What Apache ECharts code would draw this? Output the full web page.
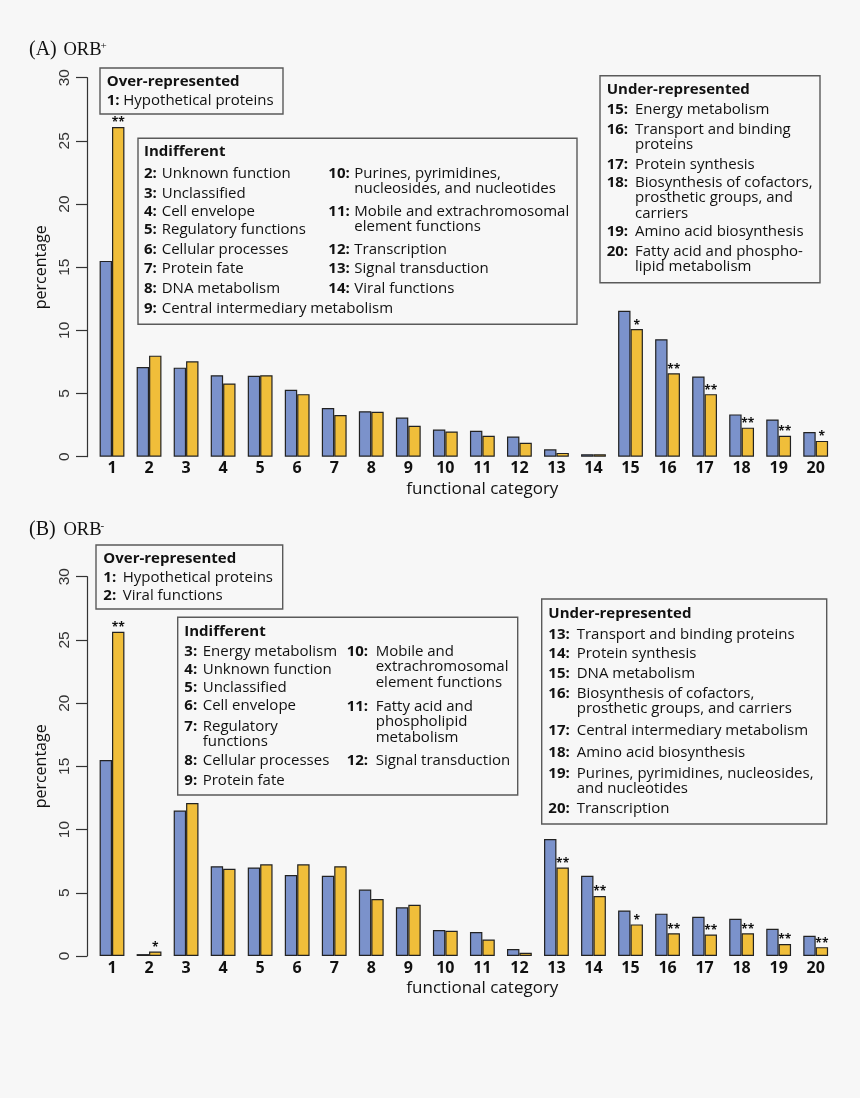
<!DOCTYPE html>
<html>
<head>
<meta charset="utf-8">
<script src="https://cdn.jsdelivr.net/npm/echarts@6/dist/echarts.min.js"></script>
<style>
html,body{margin:0;padding:0;background:#f7f7f7;}
#chart{width:860px;height:1098px;}
</style>
</head>
<body>
<div id="chart"></div>
<script>
// ---------- DATA ----------
const categories = ['1','2','3','4','5','6','7','8','9','10','11','12','13','14','15','16','17','18','19','20'];
const blueA   = [15.5, 7.1, 7.05, 6.45, 6.4, 5.3, 3.85, 3.6, 3.1, 2.15, 2.05, 1.6, 0.58, 0.2, 11.55, 9.3, 6.35, 3.35, 2.95, 1.95];
const yellowA = [26.1, 8.0, 7.55, 5.8, 6.45, 4.95, 3.3, 3.55, 2.45, 2.0, 1.65, 1.1, 0.3, 0.2, 10.1, 6.6, 4.95, 2.3, 1.65, 1.25];
const starsA  = ['**','','','','','','','','','','','','','','*','**','**','**','**','*'];
const blueB   = [15.5, 0.15, 11.5, 7.1, 7.0, 6.4, 6.35, 5.25, 3.85, 2.05, 1.9, 0.55, 9.25, 6.35, 3.6, 3.35, 3.1, 2.95, 2.15, 1.6];
const yellowB = [25.65, 0.35, 12.1, 6.9, 7.25, 7.25, 7.1, 4.5, 4.05, 2.0, 1.3, 0.25, 7.0, 4.75, 2.5, 1.8, 1.7, 1.8, 0.95, 0.7];
const starsB  = ['**','*','','','','','','','','','','','**','**','*','**','**','**','**','**'];
const yTicks  = [0, 5, 10, 15, 20, 25, 30];

const overA = [['1:', ['Hypothetical proteins']]];
const indiffA_left = [['2:',['Unknown function']],['3:',['Unclassified']],['4:',['Cell envelope']],['5:',['Regulatory functions']],['6:',['Cellular processes']],['7:',['Protein fate']],['8:',['DNA metabolism']],['9:',['Central intermediary metabolism']]];
const indiffA_right = [['10:',['Purines, pyrimidines,','nucleosides, and nucleotides']],['11:',['Mobile and extrachromosomal','element functions']],['12:',['Transcription']],['13:',['Signal transduction']],['14:',['Viral functions']]];
const underA = [['15:',['Energy metabolism']],['16:',['Transport and binding','proteins']],['17:',['Protein synthesis']],['18:',['Biosynthesis of cofactors,','prosthetic groups, and','carriers']],['19:',['Amino acid biosynthesis']],['20:',['Fatty acid and phospho-','lipid metabolism']]];

const overB = [['1:',['Hypothetical proteins']],['2:',['Viral functions']]];
const indiffB_left = [['3:',['Energy metabolism']],['4:',['Unknown function']],['5:',['Unclassified']],['6:',['Cell envelope']],['7:',['Regulatory','functions']],['8:',['Cellular processes']],['9:',['Protein fate']]];
const indiffB_right = [['10:',['Mobile and','extrachromosomal','element functions']],['11:',['Fatty acid and','phospholipid','metabolism']],['12:',['Signal transduction']]];
const underB = [['13:',['Transport and binding proteins']],['14:',['Protein synthesis']],['15:',['DNA metabolism']],['16:',['Biosynthesis of cofactors,','prosthetic groups, and carriers']],['17:',['Central intermediary metabolism']],['18:',['Amino acid biosynthesis']],['19:',['Purines, pyrimidines, nucleosides,','and nucleotides']],['20:',['Transcription']]];

// ---------- STYLE / LAYOUT ----------
const BLUE = '#7b92cb', YELLOW = '#f0be3a', EDGE = '#222';
const SANS = '"Open Sans", sans-serif';
const TXT = '#111';
const FS = 15;
const WRAP = 15.3;

const graphics = [];
function txt(x, y, s, o) {
  o = o || {};
  graphics.push({type:'text', x:x, y:y, silent:true, style:{
    text:s, fontSize:o.size||FS, fontFamily:o.family||SANS, fontWeight:o.bold?'bold':'normal',
    fill:TXT, align:'left', verticalAlign:'middle'}});
}
function box(x, y, w, h) {
  graphics.push({type:'rect', shape:{x:x, y:y, width:w, height:h}, silent:true,
    style:{fill:'none', stroke:'#5a5a5a', lineWidth:1.4}});
}
function column(entries, numX, textX, ys) {
  entries.forEach((e, i) => {
    txt(numX, ys[i], e[0], {bold:true});
    e[1].forEach((line, j) => txt(textX, ys[i] + j * WRAP, line));
  });
}
function title(y, letter, sup) {
  txt(29, y, letter, {family:'"Liberation Serif", serif', size:20});
  txt(63.5, y + 0.5, 'ORB', {family:'"Liberation Serif", serif', size:18.5});
  txt(100.5, y - 4, sup, {family:'"Liberation Serif", serif', size:11});
}

// Panel A annotations
title(50, '(A)', '+');
box(100, 68, 183, 46);
txt(106.7, 81.7, 'Over-represented', {bold:true});
column(overA, 106.7, 123.3, [100.7]);
box(138, 138.3, 439, 186);
txt(144, 151.7, 'Indifferent', {bold:true});
column(indiffA_left, 144, 161.7, [173.3,193.3,211.7,230,250,268.3,288.3,308.3]);
column(indiffA_right, 328.3, 354.3, [173.3,211.7,250,268.3,288.3]);
box(600, 75.7, 220, 207);
txt(606.7, 89.3, 'Under-represented', {bold:true});
column(underA, 606.7, 635, [109.3,129.3,164.3,182.7,232,251.7]);

// Panel B annotations
title(530, '(B)', '-');
box(96, 545, 186.7, 64);
txt(103.3, 559, 'Over-represented', {bold:true});
column(overB, 103.3, 122.7, [577.3, 596]);
box(177.7, 617.3, 340, 177.7);
txt(184.3, 631.7, 'Indifferent', {bold:true});
column(indiffB_left, 184.3, 202.7, [651.7,670,687.7,706,726.7,761,781]);
column(indiffB_right, 346.7, 375.7, [651.7,706.7,761]);
box(541.7, 599, 285, 225);
txt(548.3, 613.3, 'Under-represented', {bold:true});
column(underB, 548.3, 576.7, [635,653.3,673.3,693.3,731,752.7,773.3,809]);

// ---------- CHART ----------
function xAxis(gi) {
  return {type:'category', gridIndex:gi, data:categories,
    axisLine:{show:false}, axisTick:{show:false},
    axisLabel:{fontFamily:SANS, fontWeight:'bold', fontSize:16, color:TXT, margin:4, interval:0},
    name:'functional category', nameLocation:'middle', nameGap:24,
    nameTextStyle:{fontFamily:SANS, fontSize:17, color:TXT, padding:[0,0,0,37]}};
}
function yAxis(gi) {
  return {type:'value', gridIndex:gi, min:0, max:30, interval:5, offset:6.5,
    axisLine:{show:true, lineStyle:{color:'#333', width:1.2}},
    axisTick:{show:true, length:11, lineStyle:{color:'#333', width:1.2}},
    splitLine:{show:false},
    axisLabel:{rotate:90, margin:14, fontFamily:'"Liberation Sans", Arial, sans-serif', fontSize:15.5, color:'#333',
      formatter: v => yTicks.indexOf(v) >= 0 ? String(v) : ''},
    name:'percentage', nameLocation:'middle', nameGap:36,
    nameTextStyle:{fontFamily:SANS, fontSize:16, color:TXT}};
}
function bars(gi, vals, color, stars) {
  const s = {type:'bar', xAxisIndex:gi, yAxisIndex:gi, data:vals,
    barGap:'0%', barCategoryGap:'33%',
    itemStyle:{color:color, borderColor:EDGE, borderWidth:1.2},
    silent:true, animation:false};
  if (stars) {
    s.label = {show:true, position:'top', distance:-2, fontFamily:SANS, fontWeight:'bold', fontSize:12, color:TXT,
      formatter: p => stars[p.dataIndex]};
  }
  return s;
}

const chart = echarts.init(document.getElementById('chart'), null, {renderer:'canvas'});
chart.setOption({
  backgroundColor:'#f7f7f7',
  animation:false,
  grid:[
    {left:93.5, right:25.8, top:77.7, height:379},
    {left:93.5, right:25.8, top:576.7, height:379.3}
  ],
  xAxis:[xAxis(0), xAxis(1)],
  yAxis:[yAxis(0), yAxis(1)],
  series:[
    bars(0, blueA, BLUE), bars(0, yellowA, YELLOW, starsA),
    bars(1, blueB, BLUE), bars(1, yellowB, YELLOW, starsB)
  ],
  graphic: graphics
});
</script>
</body>
</html>
